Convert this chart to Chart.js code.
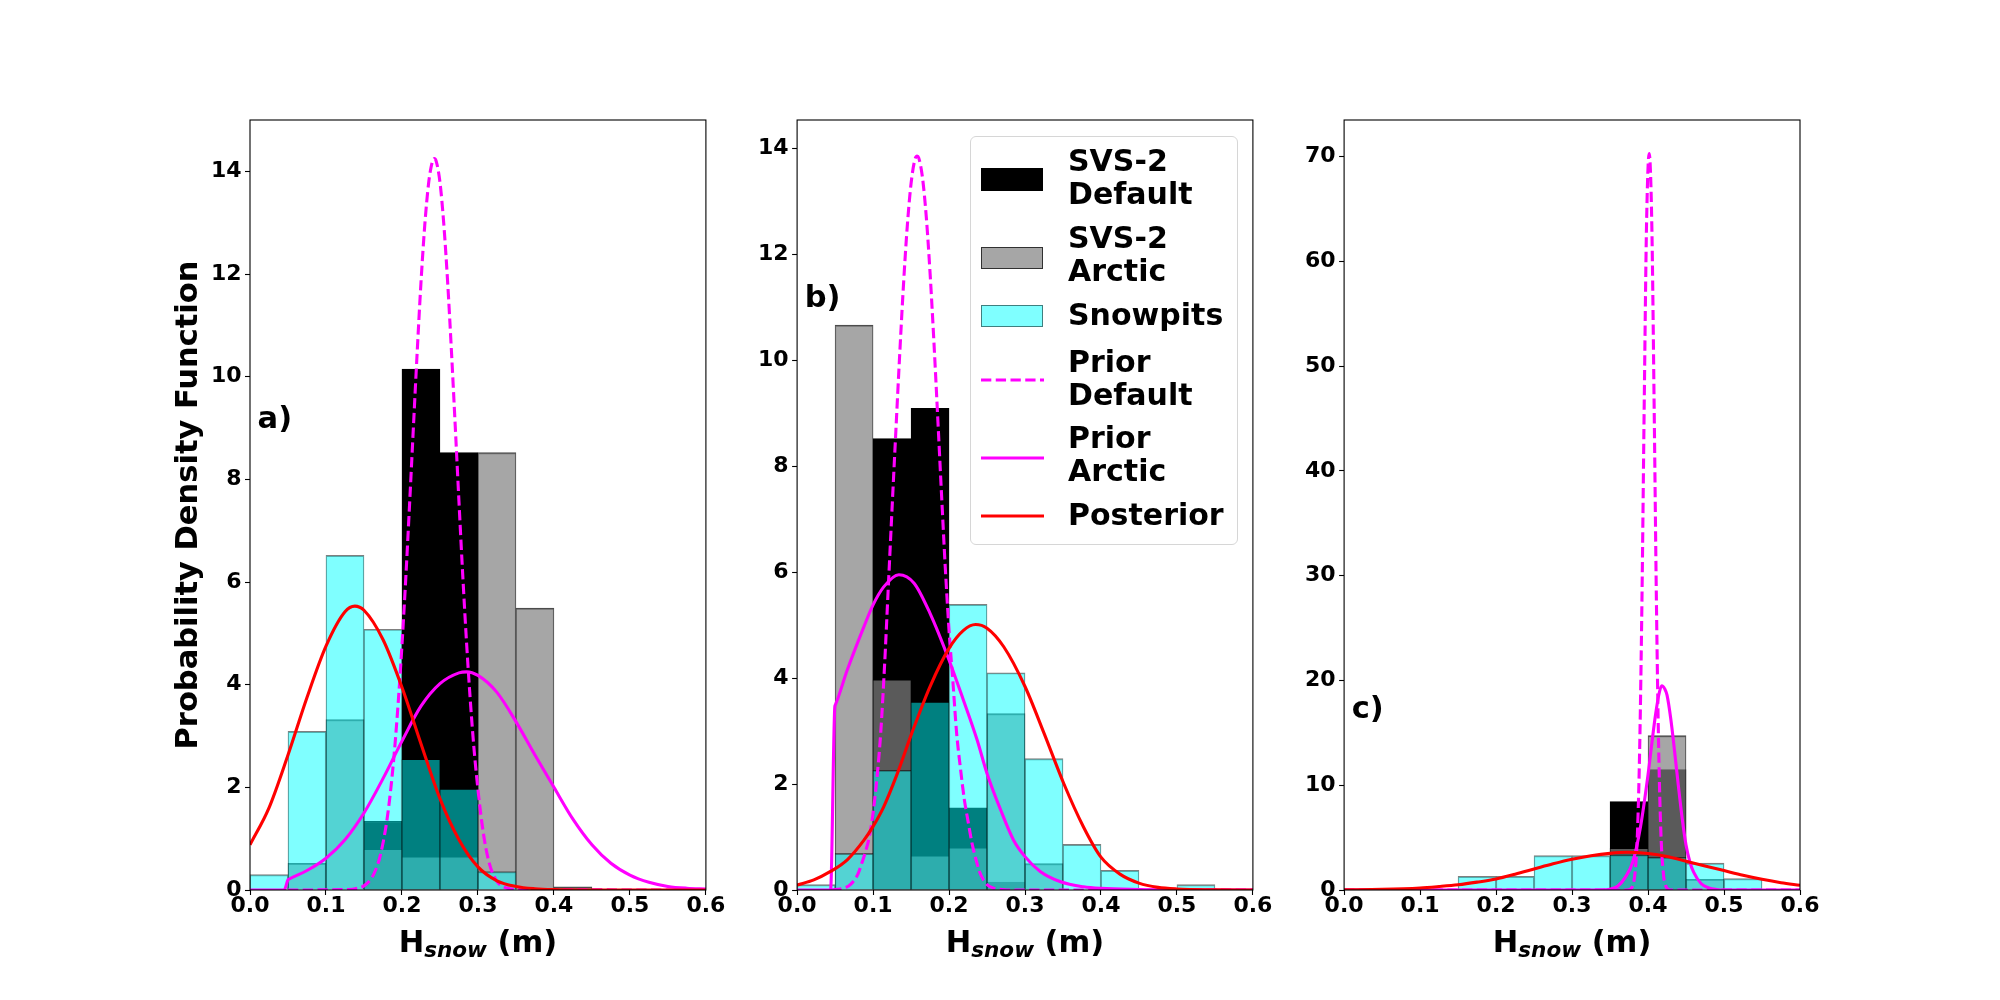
<!DOCTYPE html>
<html>
<head>
<meta charset="utf-8">
<script src="https://cdn.jsdelivr.net/npm/chart.js@4.4.1/dist/chart.umd.min.js"></script>
<style>
    html, body { margin: 0; padding: 0; background: #fff; }
    #wrap { position: relative; width: 2000px; height: 1000px; overflow: hidden; }
    #wrap canvas { position: absolute; left: 0; top: 0; }
    .legend {
        position: absolute; left: 970px; top: 136px; width: 268px; height: 409px;
        box-sizing: border-box; border: 1px solid #d6d6d6; border-radius: 6px;
        background: rgba(255, 255, 255, 0.8);
        font: bold 30px "DejaVu Sans"; color: #000;
    }
    .legend .txt { position: absolute; left: 97px; line-height: 33px; white-space: nowrap; }
    .legend .patch { position: absolute; left: 10px; width: 62px; height: 22px; box-sizing: border-box; }
    .legend svg { position: absolute; left: 10px; width: 63px; height: 10px; }
</style>
</head>
<body>
<div id="wrap">
    <canvas id="panelA" width="2000" height="1000"></canvas>
    <canvas id="panelB" width="2000" height="1000"></canvas>
    <canvas id="panelC" width="2000" height="1000"></canvas>
    <div class="legend">
        <div class="patch" style="top:31px;background:#000;border:1px solid #000;height:23px"></div>
        <div class="txt" style="top:7px">SVS-2<br>Default</div>
        <div class="patch" style="top:110px;background:rgba(128,128,128,0.7);border:1.4px solid rgba(0,0,0,0.7)"></div>
        <div class="txt" style="top:84px">SVS-2<br>Arctic</div>
        <div class="patch" style="top:168px;background:rgba(0,255,255,0.5);border:1.4px solid rgba(0,0,0,0.5)"></div>
        <div class="txt" style="top:161px">Snowpits</div>
        <svg style="top:238px" viewBox="0 0 63 10"><line x1="0" y1="5" x2="63" y2="5" stroke="#ff00ff" stroke-width="3.1" stroke-dasharray="10.3 4.45"/></svg>
        <div class="txt" style="top:208px">Prior<br>Default</div>
        <svg style="top:316px" viewBox="0 0 63 10"><line x1="0" y1="5" x2="63" y2="5" stroke="#ff00ff" stroke-width="3.1"/></svg>
        <div class="txt" style="top:284px">Prior<br>Arctic</div>
        <svg style="top:374px" viewBox="0 0 63 10"><line x1="0" y1="5" x2="63" y2="5" stroke="#ff0000" stroke-width="3.1"/></svg>
        <div class="txt" style="top:361px">Posterior</div>
    </div>
</div>
<script>
// histogram bins (width 0.05 m)
const binCenters = [0.025, 0.075, 0.125, 0.175, 0.225, 0.275, 0.325, 0.375, 0.425, 0.475, 0.525, 0.575];
const xTicks = [0, 0.1, 0.2, 0.3, 0.4, 0.5, 0.6];
const yTicksAB = [0, 2, 4, 6, 8, 10, 12, 14];
const yTicksC = [0, 10, 20, 30, 40, 50, 60, 70];

// panel a
const svsDefaultA = [null, null, null, 1.34, 10.15, 8.52, null, null, null, null, null, null];
const svsArcticA = [null, 0.52, 3.32, 0.80, 0.65, 0.65, 8.52, 5.49, 0.06, null, null, null];
const snowpitsA = [0.30, 3.09, 6.52, 5.08, 2.55, 1.97, 0.36, null, null, null, null, null];
const priorDefaultAx = [0.05, 0.13, 0.14, 0.15, 0.16, 0.165, 0.17, 0.175, 0.18, 0.185, 0.19, 0.195, 0.2, 0.205, 0.21, 0.215, 0.22, 0.225, 0.23, 0.235, 0.24, 0.2426, 0.245, 0.25, 0.255, 0.26, 0.265, 0.27, 0.275, 0.28, 0.285, 0.29, 0.295, 0.3, 0.305, 0.31, 0.315, 0.32, 0.325, 0.33, 0.34, 0.35, 0.6];
const priorDefaultAy = [0, 0.01, 0.03, 0.08, 0.23, 0.38, 0.59, 0.91, 1.34, 1.93, 2.69, 3.64, 4.77, 6.07, 7.51, 9.0, 10.47, 11.83, 12.95, 13.76, 14.19, 14.25, 14.2, 13.79, 12.98, 11.87, 10.53, 9.07, 7.57, 6.13, 4.82, 3.68, 2.72, 1.96, 1.33, 0.85, 0.52, 0.3, 0.17, 0.09, 0.03, 0.01, 0];
const priorArcticAx = [0, 0.045, 0.05, 0.0505, 0.075, 0.1, 0.125, 0.15, 0.175, 0.2, 0.225, 0.25, 0.275, 0.285, 0.3, 0.325, 0.35, 0.375, 0.4, 0.425, 0.45, 0.475, 0.5, 0.525, 0.55, 0.575, 0.6];
const priorArcticAy = [0, 0, 0.2, 0.205, 0.38, 0.62, 0.98, 1.5, 2.17, 2.9, 3.58, 4.02, 4.23, 4.25, 4.18, 3.85, 3.28, 2.63, 2.0, 1.38, 0.88, 0.52, 0.29, 0.15, 0.07, 0.035, 0.02];
const posteriorAx = [0, 0.025, 0.05, 0.075, 0.1, 0.125, 0.138, 0.15, 0.175, 0.2, 0.225, 0.25, 0.275, 0.3, 0.325, 0.35, 0.375, 0.4, 0.45, 0.5, 0.6];
const posteriorAy = [0.88, 1.6, 2.63, 3.75, 4.75, 5.42, 5.53, 5.45, 4.88, 3.95, 2.85, 1.78, 0.98, 0.45, 0.18, 0.07, 0.025, 0.008, 0.001, 0, 0];

// panel b
const svsDefaultB = [null, null, 8.52, 9.09, 1.55, 0.15, null, null, null, null, null, null];
const svsArcticB = [null, 10.66, 3.97, 0.65, 0.80, 3.33, 0.50, null, null, null, null, null];
const snowpitsB = [0.10, 0.69, 2.26, 3.55, 5.39, 4.10, 2.48, 0.86, 0.37, null, 0.10, null];
const priorDefaultBx = [0.045, 0.06, 0.07, 0.08, 0.085, 0.09, 0.095, 0.1, 0.105, 0.11, 0.115, 0.12, 0.125, 0.13, 0.135, 0.14, 0.145, 0.15, 0.155, 0.158, 0.16, 0.165, 0.17, 0.175, 0.18, 0.185, 0.19, 0.195, 0.2, 0.205, 0.21, 0.215, 0.22, 0.225, 0.23, 0.235, 0.24, 0.245, 0.25, 0.26, 0.27, 0.28, 0.6];
const priorDefaultBy = [0, 0.03, 0.1, 0.3, 0.5, 0.72, 1.0, 1.45, 2.1, 2.95, 4.2, 5.7, 7.2, 8.66, 10.09, 11.41, 12.52, 13.33, 13.78, 13.85, 13.82, 13.45, 12.71, 11.65, 10.37, 8.95, 7.5, 6.1, 4.9, 3.95, 2.96, 2.3, 1.72, 1.3, 0.9, 0.6, 0.35, 0.2, 0.1, 0.03, 0.01, 0, 0];
const priorArcticBx = [0, 0.044, 0.0496, 0.0502, 0.066, 0.088, 0.1, 0.114, 0.134, 0.154, 0.175, 0.2, 0.219, 0.237, 0.25, 0.268, 0.285, 0.3, 0.32, 0.346, 0.377, 0.4, 0.45, 0.5, 0.6];
const priorArcticBy = [0, 0, 3.45, 3.49, 4.15, 4.97, 5.38, 5.72, 5.95, 5.79, 5.22, 4.34, 3.58, 2.83, 2.2, 1.51, 0.94, 0.63, 0.35, 0.16, 0.06, 0.03, 0.01, 0, 0];
const posteriorBx = [0, 0.022, 0.044, 0.066, 0.088, 0.1, 0.114, 0.132, 0.151, 0.175, 0.2, 0.219, 0.235, 0.25, 0.272, 0.3, 0.325, 0.351, 0.377, 0.4, 0.425, 0.45, 0.475, 0.5, 0.55, 0.6];
const posteriorBy = [0.094, 0.19, 0.35, 0.57, 0.94, 1.2, 1.57, 2.2, 2.96, 3.84, 4.56, 4.9, 5.01, 4.94, 4.59, 3.84, 2.96, 2.01, 1.19, 0.62, 0.3, 0.13, 0.05, 0.02, 0.004, 0];

// panel c
const svsDefaultC = [null, null, null, null, null, null, null, 8.43, 11.5, null, null, null];
const svsArcticC = [null, null, null, null, null, null, null, 4.00, 14.73, 1.02, null, null];
const snowpitsC = [null, null, null, 1.31, 1.31, 3.29, 3.29, 3.35, 3.13, 2.56, 1.09, null];
const priorDefaultCx = [0, 0.37, 0.375, 0.38, 0.383, 0.386, 0.389, 0.392, 0.395, 0.398, 0.4015, 0.405, 0.408, 0.411, 0.414, 0.417, 0.42, 0.423, 0.428, 0.431, 0.6];
const priorDefaultCy = [0, 0, 0.03, 0.45, 1.7, 5.3, 13.5, 27.7, 46.5, 63.4, 70.3, 63.4, 46.5, 27.7, 13.5, 5.3, 1.7, 0.45, 0.03, 0, 0];
const priorArcticCx = [0, 0.34, 0.35, 0.36, 0.37, 0.38, 0.39, 0.4, 0.405, 0.41, 0.415, 0.418, 0.422, 0.425, 0.43, 0.435, 0.44, 0.445, 0.45, 0.455, 0.46, 0.47, 0.48, 0.49, 0.5, 0.6];
const priorArcticCy = [0, 0, 0.08, 0.35, 1.2, 2.7, 6.0, 11.0, 14.0, 16.8, 18.9, 19.5, 19.2, 18.6, 16.3, 13.2, 9.9, 6.8, 4.3, 2.7, 1.7, 0.6, 0.2, 0.05, 0, 0];
const posteriorCx = [0, 0.05, 0.1, 0.125, 0.15, 0.175, 0.2, 0.225, 0.25, 0.275, 0.3, 0.325, 0.35, 0.372, 0.4, 0.425, 0.45, 0.475, 0.5, 0.525, 0.55, 0.575, 0.6];
const posteriorCy = [0.02, 0.06, 0.19, 0.33, 0.5, 0.75, 1.05, 1.5, 2.0, 2.5, 2.94, 3.27, 3.5, 3.6, 3.48, 3.2, 2.75, 2.3, 1.85, 1.4, 1.02, 0.7, 0.45];

Chart.defaults.font.family = "'DejaVu Sans'";
Chart.defaults.color = "#000";

const FONT_BIG = 'bold 30.5px "DejaVu Sans"';
const FONT_SUB = 'italic bold 21.5px "DejaVu Sans"';

// frame, panel letter and axis titles
const panelDecor = {
    id: "panelDecor",
    afterDatasetsDraw(chart, args, o) {
        const { ctx, chartArea: a } = chart;
        const xs = chart.scales.x, ys = chart.scales.y;
        ctx.save();
        ctx.strokeStyle = "#000";
        ctx.lineWidth = 1.1;
        ctx.strokeRect(a.left, a.top, a.right - a.left, a.bottom - a.top);

        ctx.fillStyle = "#000";
        ctx.font = FONT_BIG;
        ctx.textAlign = "left";
        ctx.textBaseline = "alphabetic";
        ctx.fillText(o.letter, xs.getPixelForValue(o.letterAt[0]), ys.getPixelForValue(o.letterAt[1]));

        // H_snow (m)
        const wH = ctx.measureText("H").width;
        const wM = ctx.measureText(" (m)").width;
        ctx.font = FONT_SUB;
        const wS = ctx.measureText("snow").width;
        let x0 = (a.left + a.right) / 2 - (wH + wS + wM) / 2;
        const base = a.bottom + 62;
        ctx.font = FONT_BIG;
        ctx.fillText("H", x0, base);
        ctx.font = FONT_SUB;
        ctx.fillText("snow", x0 + wH, base + 5);
        ctx.font = FONT_BIG;
        ctx.fillText(" (m)", x0 + wH + wS, base);

        if (o.yTitle) {
            ctx.translate(a.left - 53, (a.top + a.bottom) / 2);
            ctx.rotate(-Math.PI / 2);
            ctx.textAlign = "center";
            ctx.fillText(o.yTitle, 0, 0);
        }
        ctx.restore();
    },
};

const toPts = (xs, ys) => xs.map((x, i) => ({ x, y: ys[i] }));

function histSet(values, fill, edge, order) {
    return {
        type: "bar",
        data: toPts(binCenters, values),
        backgroundColor: fill,
        borderColor: edge,
        borderWidth: { top: 1.3, left: 0.7, right: 0.7, bottom: 0 },
        borderSkipped: false,
        grouped: false,
        barPercentage: 1,
        categoryPercentage: 1,
        order,
    };
}

function curveSet(xs, ys, color, dashed, order) {
    return {
        type: "line",
        data: toPts(xs, ys),
        borderColor: color,
        borderWidth: 3.1,
        borderDash: dashed ? [10.3, 4.45] : [],
        pointRadius: 0,
        cubicInterpolationMode: "monotone",
        fill: false,
        order,
    };
}

function makePanel(id, plotLeft, plotRight, yMax, yTicks, hist, curves, decor) {
    const tickFont = { size: 22, weight: "bold", lineHeight: 1 };
    return new Chart(document.getElementById(id), {
        type: "bar",
        data: {
            datasets: [
                histSet(hist[0], "rgba(0,0,0,1)", "rgba(0,0,0,1)", 9),
                histSet(hist[1], "rgba(128,128,128,0.7)", "rgba(0,0,0,0.7)", 8),
                histSet(hist[2], "rgba(0,255,255,0.5)", "rgba(0,0,0,0.5)", 7),
                curveSet(curves[0][0], curves[0][1], "#ff00ff", true, 3),
                curveSet(curves[1][0], curves[1][1], "#ff00ff", false, 2),
                curveSet(curves[2][0], curves[2][1], "#ff0000", false, 1),
            ],
        },
        options: {
            responsive: false,
            animation: false,
            events: [],
            layout: {
                autoPadding: false,
                padding: { left: plotLeft - 100, right: 2000 - plotRight, top: 120, bottom: 50 },
            },
            plugins: {
                legend: { display: false },
                tooltip: { enabled: false },
                panelDecor: decor,
            },
            scales: {
                x: {
                    type: "linear",
                    min: 0,
                    max: 0.6,
                    offset: false,
                    afterFit: (s) => { s.height = 60; },
                    afterBuildTicks: (s) => { s.ticks = xTicks.map((v) => ({ value: v })); },
                    border: { display: false },
                    grid: { display: true, offset: false, drawOnChartArea: false, drawTicks: true, tickLength: 5, tickColor: "#000", tickWidth: 1.1 },
                    ticks: { font: tickFont, padding: 0, maxRotation: 0, autoSkip: false, callback: (v) => v.toFixed(1) },
                },
                y: {
                    min: 0,
                    max: yMax,
                    afterFit: (s) => { s.width = 100; },
                    afterBuildTicks: (s) => { s.ticks = yTicks.map((v) => ({ value: v })); },
                    border: { display: false },
                    grid: { display: true, drawOnChartArea: false, drawTicks: true, tickLength: 5, tickColor: "#000", tickWidth: 1.1 },
                    ticks: { font: tickFont, padding: 3.5, autoSkip: false, callback: (v) => String(v) },
                },
            },
        },
        plugins: [panelDecor],
    });
}

makePanel("panelA", 250, 705.9, 15.0, yTicksAB,
    [svsDefaultA, svsArcticA, snowpitsA],
    [[priorDefaultAx, priorDefaultAy], [priorArcticAx, priorArcticAy], [posteriorAx, posteriorAy]],
    { letter: "a)", letterAt: [0.01, 9.0], yTitle: "Probability Density Function" });

makePanel("panelB", 797.1, 1252.9, 14.53, yTicksAB,
    [svsDefaultB, svsArcticB, snowpitsB],
    [[priorDefaultBx, priorDefaultBy], [priorArcticBx, priorArcticBy], [posteriorBx, posteriorBy]],
    { letter: "b)", letterAt: [0.01, 11.0] });

makePanel("panelC", 1344.1, 1800, 73.5, yTicksC,
    [svsDefaultC, svsArcticC, snowpitsC],
    [[priorDefaultCx, priorDefaultCy], [priorArcticCx, priorArcticCy], [posteriorCx, posteriorCy]],
    { letter: "c)", letterAt: [0.01, 16.4] });
</script>
</body>
</html>
